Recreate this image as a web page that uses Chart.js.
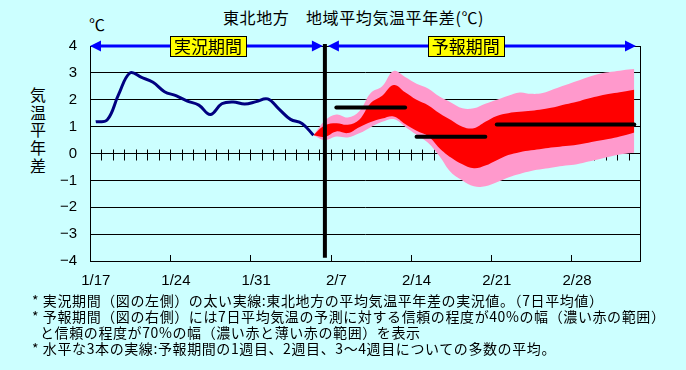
<!DOCTYPE html>
<html lang="ja">
<head>
<meta charset="utf-8">
<script src="https://cdn.jsdelivr.net/npm/chart.js@4.4.1/dist/chart.umd.min.js"></script>
<style>
  html, body { margin: 0; padding: 0; }
  body {
    width: 686px; height: 370px; position: relative; overflow: hidden;
    background: #ccffff; color: #000;
    font-family: "Noto Sans CJK JP", "Noto Sans", sans-serif;
  }
  #chart { position: absolute; left: 0; top: 0; }
  .title { position: absolute; left: 223px; top: 6px; font-size: 16px; line-height: 22px; letter-spacing: 0.6px; white-space: nowrap; }
  .unit { position: absolute; left: 89px; top: 14px; font-size: 16px; line-height: 20px; }
  .ylab { position: absolute; left: 29px; top: 86px; width: 18px; font-size: 16px; line-height: 17.7px; text-align: center; }
  .notes { position: absolute; left: 32px; top: 292px; font-size: 14px; line-height: 16px; letter-spacing: 0.6px; white-space: nowrap; }
  .notes .ind { padding-left: 8px; }
</style>
</head>
<body>
<div class="title">東北地方　地域平均気温平年差(℃)</div>
<div class="unit">℃</div>
<div class="ylab">気<br>温<br>平<br>年<br>差</div>
<canvas id="chart" width="686" height="370"></canvas>
<div class="notes">
  <div>* 実況期間（図の左側）の太い実線:東北地方の平均気温平年差の実況値。（7日平均値）</div>
  <div>* 予報期間（図の右側）には7日平均気温の予測に対する信頼の程度が40%の幅（濃い赤の範囲）</div>
  <div class="ind">と信頼の程度が70%の幅（濃い赤と薄い赤の範囲）を表示</div>
  <div>* 水平な3本の実線:予報期間の1週目、2週目、3～4週目についての多数の平均。</div>
</div>
<script>
// days run from 1/17 (index 0) to 3/5 (index 47)
const dateLabels = ['1/17', '1/24', '1/31', '2/7', '2/14', '2/21', '2/28'];
const dayCount = 48;

// observed 7-day mean anomaly, 1/17 .. 2/5
const observed = [1.18, 1.25, 2.2, 3.0, 2.83, 2.65, 2.3, 2.15, 1.95, 1.8,
                  1.45, 1.85, 1.92, 1.84, 1.93, 2.03, 1.65, 1.27, 1.12, 0.68];

// forecast ranges, 2/5 .. 3/5
const fcStart = 19;
const range70Low = [0.68, 0.5, 0.63, 0.6, 0.75, 0.98, 1.18, 1.28, 1.0, 0.7,
                    0.4, -0.1, -0.7, -1.0, -1.22, -1.22, -1.07, -0.89, -0.76, -0.65,
                    -0.58, -0.51, -0.45, -0.4, -0.3, -0.2, -0.1, -0.02, 0.03];
const range40Low = [0.68, 0.62, 0.82, 0.76, 0.98, 1.17, 1.3, 1.38, 1.1, 0.85,
                    0.65, 0.2, -0.15, -0.4, -0.55, -0.45, -0.25, -0.06, 0.05, 0.12,
                    0.18, 0.23, 0.28, 0.33, 0.4, 0.48, 0.56, 0.66, 0.78];
const range40High = [0.68, 1.05, 1.13, 1.07, 1.26, 1.88, 2.15, 2.55, 2.28, 2.0,
                     1.8, 1.5, 1.25, 1.0, 0.94, 1.18, 1.4, 1.5, 1.55, 1.59,
                     1.65, 1.72, 1.83, 1.93, 2.05, 2.15, 2.23, 2.3, 2.37];
const range70High = [0.68, 1.22, 1.45, 1.34, 1.57, 2.25, 2.5, 3.07, 2.85, 2.6,
                     2.42, 2.12, 1.9, 1.68, 1.68, 1.85, 2.0, 2.15, 2.27, 2.22,
                     2.25, 2.4, 2.55, 2.7, 2.85, 2.97, 3.04, 3.1, 3.14];

// ensemble mean for week 1, week 2, weeks 3-4
const weekMeans = [1.71, 0.62, 1.08];
const weekFrom = [21, 28, 35];
const weekTo = [27, 34, 47];

const splitDay = 20;
const periodNames = ['実況期間', '予報期間'];
const periodLabelDay = [9.8, 32.3];

function series(arr, start) {
    return arr.map((v, i) => ({ x: start + i, y: v }));
}

const decor = {
    id: 'decor',
    beforeDatasetsDraw(chart) {
        const { ctx, chartArea: a, scales: { x, y } } = chart;
        ctx.save();
        ctx.strokeStyle = '#000';
        ctx.lineWidth = 1;
        // daily ticks on the zero line
        const y0 = Math.round(y.getPixelForValue(0)) + 0.5;
        ctx.beginPath();
        for (let d = 0; d < dayCount - 1; d++) {
            const px = Math.round(x.getPixelForValue(d + 0.5)) + 0.5;
            ctx.moveTo(px, y0 - 5);
            ctx.lineTo(px, y0 + 6);
        }
        // weekly ticks on the bottom axis
        for (let w = 1; w < dateLabels.length; w++) {
            const px = Math.round(x.getPixelForValue(w * 7 - 0.5)) + 0.5;
            ctx.moveTo(px, a.bottom);
            ctx.lineTo(px, a.bottom - 6);
        }
        ctx.stroke();
        ctx.restore();
    },
    afterDatasetsDraw(chart) {
        const { ctx, chartArea: a, scales: { x, y } } = chart;
        ctx.save();
        // right border
        ctx.strokeStyle = '#000';
        ctx.lineWidth = 1;
        ctx.beginPath();
        ctx.moveTo(Math.round(a.right) + 0.5, a.top);
        ctx.lineTo(Math.round(a.right) + 0.5, a.bottom);
        ctx.stroke();

        // boundary between observed and forecast
        const sx = x.getPixelForValue(splitDay);
        ctx.lineWidth = 4;
        ctx.beginPath();
        ctx.moveTo(sx, a.top - 2);
        ctx.lineTo(sx, y.getPixelForValue(-3.88));
        ctx.stroke();

        // period arrows
        const ty = y.getPixelForValue(4);
        ctx.strokeStyle = '#0000ff';
        ctx.fillStyle = '#0000ff';
        ctx.lineWidth = 3;
        const arrow = (x1, x2) => {
            const len = 11, half = 5.5;
            ctx.beginPath();
            ctx.moveTo(x1 + len - 1, ty);
            ctx.lineTo(x2 - len + 1, ty);
            ctx.stroke();
            ctx.beginPath();
            ctx.moveTo(x1, ty);
            ctx.lineTo(x1 + len, ty - half);
            ctx.lineTo(x1 + len, ty + half);
            ctx.closePath();
            ctx.moveTo(x2, ty);
            ctx.lineTo(x2 - len, ty - half);
            ctx.lineTo(x2 - len, ty + half);
            ctx.closePath();
            ctx.fill();
        };
        arrow(a.left, sx - 2);
        arrow(sx + 3, a.right - 4);

        // period labels
        ctx.font = '17px "Noto Sans CJK JP"';
        ctx.textAlign = 'center';
        ctx.textBaseline = 'middle';
        periodNames.forEach((name, i) => {
            const cx = x.getPixelForValue(periodLabelDay[i]);
            const w = 76, h = 20;
            const bx = Math.round(cx - w / 2) + 0.5, by = Math.round(ty - h / 2) + 0.5;
            ctx.fillStyle = '#ffff00';
            ctx.fillRect(bx, by, w, h);
            ctx.strokeStyle = '#000';
            ctx.lineWidth = 1;
            ctx.strokeRect(bx, by, w, h);
            ctx.fillStyle = '#000';
            ctx.fillText(name, cx, ty + 1);
        });
        ctx.restore();
    }
};

const datasets = [
    { data: series(range70Low, fcStart), borderWidth: 0, fill: false, order: 6 },
    { data: series(range70High, fcStart), borderWidth: 0, fill: 0, backgroundColor: '#ff99cc', order: 5 },
    { data: series(range40Low, fcStart), borderWidth: 0, fill: false, order: 4 },
    { data: series(range40High, fcStart), borderWidth: 0, fill: 2, backgroundColor: '#ff0000', order: 3 },
    { data: series(observed, 0), borderColor: '#000080', borderWidth: 3, fill: false, order: 2 }
];
weekMeans.forEach((m, i) => {
    datasets.push({
        data: [{ x: weekFrom[i], y: m }, { x: weekTo[i], y: m }],
        borderColor: '#000', borderWidth: 4, borderCapStyle: 'round',
        tension: 0, fill: false, order: 1
    });
});

new Chart(document.getElementById('chart'), {
    type: 'line',
    data: { datasets: datasets },
    options: {
        responsive: false,
        animation: false,
        devicePixelRatio: 1,
        layout: { padding: { left: 50, right: 46, top: 46, bottom: 79 } },
        elements: {
            point: { radius: 0 },
            line: { tension: 0.4 }
        },
        plugins: { legend: { display: false }, tooltip: { enabled: false } },
        scales: {
            x: {
                type: 'linear',
                min: -0.5,
                max: dayCount - 0.5,
                afterBuildTicks: (scale) => {
                    scale.ticks = dateLabels.map((l, i) => ({ value: i * 7 }));
                },
                afterFit: (scale) => { scale.height = 30; },
                grid: { display: false, drawTicks: false },
                border: { display: true, color: '#000', width: 1 },
                ticks: {
                    padding: 11,
                    maxRotation: 0,
                    autoSkip: false,
                    color: '#000',
                    font: { family: 'Liberation Sans', size: 15 },
                    callback: (v) => dateLabels[Math.round(v / 7)]
                }
            },
            y: {
                min: -4,
                max: 4,
                afterFit: (scale) => { scale.width = 40; },
                grid: { color: '#000', lineWidth: 1, drawTicks: false },
                border: { display: true, color: '#000', width: 1 },
                ticks: {
                    stepSize: 1,
                    padding: 13,
                    color: '#000',
                    font: { family: 'Liberation Sans', size: 15 },
                    callback: (v) => (v < 0 ? '\u2212' + (-v) : '' + v)
                }
            }
        }
    },
    plugins: [decor]
});
</script>
</body>
</html>
